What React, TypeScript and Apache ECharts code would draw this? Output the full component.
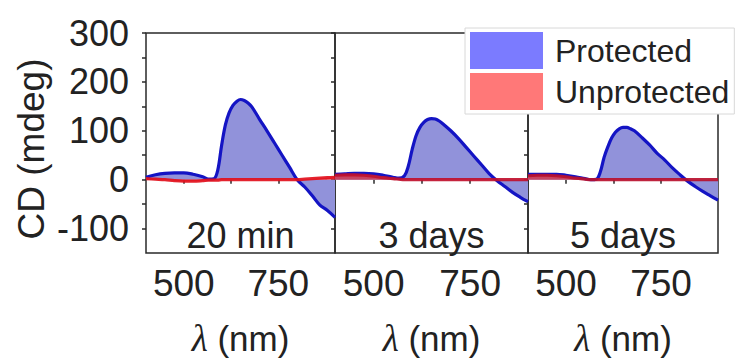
import React, { useEffect, useRef } from "react";
import * as echarts from "echarts";

// Wavelength grid (nm) shared by every curve
const wavelengths = [400, 425, 450, 475, 500, 525, 550, 565, 580, 590, 600, 610, 620, 630, 640, 650, 660, 670, 680, 700, 720, 740, 760, 780, 800, 820, 840, 860, 880, 900];

// CD (mdeg)
const protected20min = [5, 10, 13, 14, 14, 11, 6, 1, 2, 20, 70, 112, 137, 152, 160, 164, 162, 157, 149, 124, 100, 75, 50, 25, 0, -15, -33, -52, -63, -77];
const protected3days = [11, 12, 13, 13, 12, 9, 5, 3, 8, 28, 62, 90, 107, 117, 123, 125, 124, 120, 114, 100, 84, 66, 48, 30, 12, -2, -14, -26, -36, -45];
const protected5days = [11, 11, 11, 11, 9, 6, 2, 0, 1, 15, 45, 67, 85, 97, 104, 107, 107, 104, 100, 86, 71, 54, 40, 24, 10, -3, -14, -24, -33, -42];

const unprotected20min = [2, 1, 0, -2, -3, -3, -2, -1, -1, -1, 0, 0, 0, 0, 0, 0, 0, 0, 0, 0, 0, 0, 0, 0, 0, 1, 2, 3, 4, 5];
const unprotected3days = [9, 10, 10, 9, 7, 4, 2, 1, 0, 0, 0, 0, 0, 0, 0, 0, 0, 0, 0, 0, 0, 0, 0, 0, 0, 0, 0, 0, 0, 0];
const unprotected5days = [8, 9, 9, 8, 6, 3, 1, 0, 0, 0, 0, 0, 0, 0, 0, 0, 0, 0, 0, 0, 0, 0, 0, 0, 0, 0, 0, 0, 0, 0];

const panelLabels = ["20 min", "3 days", "5 days"];
const protectedSets = [protected20min, protected3days, protected5days];
const unprotectedSets = [unprotected20min, unprotected3days, unprotected5days];

const yTickLabels = [-100, 0, 100, 200, 300];
const yTicks = [-100, -50, 0, 50, 100, 150, 200, 250, 300];
const xTickLabels = [500, 750];
const xTicks = [500, 625, 750, 875];

const seriesNames = ["Protected", "Unprotected"];

const FONT = "'Liberation Sans', Arial, sans-serif";
const TXT = "#222";

export default function App() {
  const ref = useRef<HTMLDivElement>(null);

  useEffect(() => {
    document.body.style.margin = "0";
    if (!ref.current) return;
    const chart = echarts.init(ref.current, null, { renderer: "svg" });

    const gridPos = [
      { left: 146, width: 189 },
      { left: 335, width: 193 },
      { left: 528, width: 190 },
    ];
    const redLine = ["#e2101c", "#c0102c", "#b8102e"];

    const grids = gridPos.map((g) => ({
      left: g.left,
      width: g.width,
      top: 33,
      height: 227,
      show: true,
      borderColor: "#2a2a2a",
      borderWidth: 1.5,
      backgroundColor: "transparent",
    }));

    const xAxes = gridPos.map((_, i) => ({
      type: "value",
      gridIndex: i,
      min: 400,
      max: 900,
      axisLine: { show: false },
      splitLine: { show: false },
      axisTick: {
        show: true,
        inside: false,
        length: 4,
        customValues: xTicks,
        lineStyle: { color: "#2a2a2a", width: 1.5 },
      },
      axisLabel: {
        customValues: xTickLabels,
        fontSize: 37,
        fontFamily: FONT,
        color: TXT,
        margin: 12,
      },
      name: "{l|λ} (nm)",
      nameLocation: "middle",
      nameGap: 67,
      nameTextStyle: {
        fontSize: 35,
        fontFamily: FONT,
        color: TXT,
        verticalAlign: "top",
        rich: {
          l: { fontSize: 37, fontFamily: "'Liberation Serif', serif", fontStyle: "italic", color: TXT },
        },
      },
    }));

    const yAxes = gridPos.map((_, i) => ({
      type: "value",
      gridIndex: i,
      min: -150,
      max: 300,
      axisLine: { show: false },
      splitLine: { show: false },
      axisTick: {
        show: true,
        inside: false,
        length: 4,
        customValues: yTicks,
        lineStyle: { color: "#2a2a2a", width: 1.5 },
      },
      axisLabel: {
        show: i === 0,
        customValues: yTickLabels,
        fontSize: 36,
        fontFamily: FONT,
        color: TXT,
        margin: 17,
      },
    }));

    const series: any[] = [];
    gridPos.forEach((_, i) => {
      series.push({
        name: seriesNames[0],
        type: "line",
        xAxisIndex: i,
        yAxisIndex: i,
        data: wavelengths.map((w, k) => [w, protectedSets[i][k]]),
        smooth: 0.35,
        showSymbol: false,
        z: 2,
        lineStyle: { color: "#1414c4", width: 3.2 },
        itemStyle: { color: "#7b7bff" },
        areaStyle: { color: "#9192da", opacity: 1 },
      });
      series.push({
        name: seriesNames[1],
        type: "line",
        xAxisIndex: i,
        yAxisIndex: i,
        data: wavelengths.map((w, k) => [w, unprotectedSets[i][k]]),
        smooth: 0.35,
        showSymbol: false,
        z: 3,
        lineStyle: { color: redLine[i], width: 3.2, opacity: 0.92 },
        itemStyle: { color: "#ff7878" },
        areaStyle: { color: "#d82838", opacity: 0.75 },
      });
    });

    const graphic: any[] = gridPos.map((g, i) => ({
      type: "text",
      x: g.left + g.width / 2,
      y: 235,
      z: 10,
      style: {
        text: panelLabels[i],
        fontSize: 36,
        fontFamily: FONT,
        fill: TXT,
        textAlign: "center",
        textVerticalAlign: "middle",
      },
    }));
    graphic.push({
      type: "text",
      x: 31,
      y: 149,
      rotation: Math.PI / 2,
      style: {
        text: "CD (mdeg)",
        fontSize: 37,
        fontFamily: FONT,
        fill: TXT,
        textAlign: "center",
        textVerticalAlign: "middle",
      },
    });

    chart.setOption({
      animation: false,
      backgroundColor: "#ffffff",
      grid: grids,
      xAxis: xAxes,
      yAxis: yAxes,
      series,
      graphic,
      legend: {
        orient: "vertical",
        left: 465,
        top: 28,
        padding: [4, 5, 4, 5],
        itemGap: 4,
        itemWidth: 73,
        itemHeight: 37,
        backgroundColor: "#ffffff",
        borderColor: "#d8d8d8",
        borderWidth: 1,
        z: 20,
        textStyle: {
          fontSize: 32,
          fontFamily: FONT,
          color: TXT,
          padding: [0, 0, 0, 7],
        },
        data: [
          { name: "Protected", icon: "rect", itemStyle: { color: "#7b7bff", borderWidth: 0 } },
          { name: "Unprotected", icon: "rect", itemStyle: { color: "#ff7878", borderWidth: 0 } },
        ],
      },
    });

    return () => chart.dispose();
  }, []);

  return <div ref={ref} style={{ width: 738, height: 362 }} />;
}
